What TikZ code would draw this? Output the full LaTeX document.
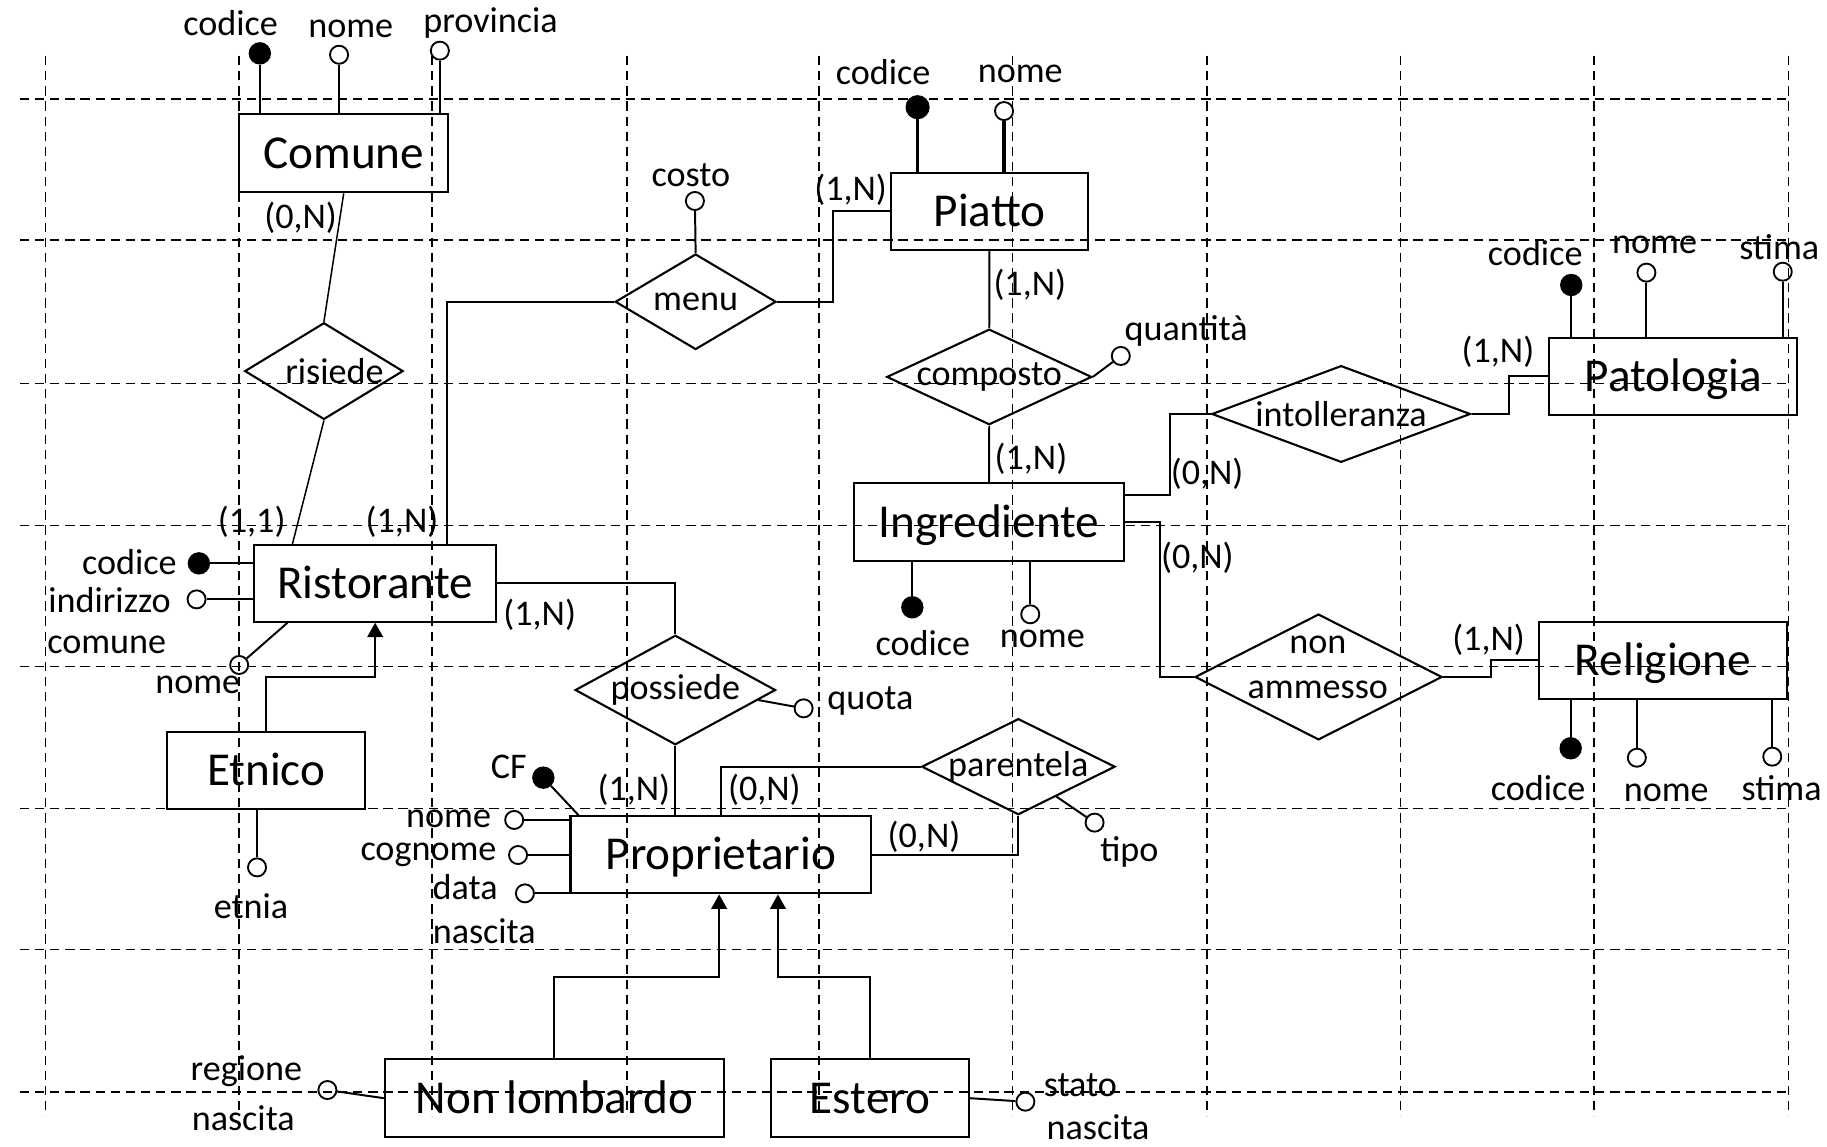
\documentclass[tikz,border=0pt]{standalone}
\usepackage{fontspec}
\setmainfont{Carlito}
\usetikzlibrary{shapes.geometric,arrows.meta,calc}
\newcommand{\smallfnt}{\fontsize{31}{36}\selectfont}
\newcommand{\bigfnt}{\fontsize{40.5}{48}\selectfont}
\tikzset{
  gridline/.style={line width=1.4pt, dash pattern=on 8pt off 5pt},
  ent/.style={draw, rectangle, line width=1.8pt, inner sep=0pt, font=\bigfnt, text height=26pt, text depth=0pt},
  rel/.style={draw, diamond, line width=1.8pt, inner sep=0pt, font=\smallfnt},
  keyat/.style={circle, draw, fill=black, line width=1.2pt, minimum size=18pt, inner sep=0pt},
  att/.style={circle, draw, line width=1.6pt, minimum size=15.5pt, inner sep=0pt},
  lbl/.style={inner sep=0pt, font=\smallfnt},
  conn/.style={line width=1.7pt},
  thickconn/.style={line width=2.8pt},
  isa/.style={line width=1.7pt, -{Triangle[length=12.5pt,width=13.5pt]}},
}
\begin{document}
\begin{tikzpicture}[x=1pt,y=-1pt]
\useasboundingbox (0,0) rectangle (1568,984);
% dashed grid
\foreach \x in {39,205,371,538,703,869,1036,1202,1368,1535} \draw[gridline] (\x,48) -- (\x,958);
\foreach \y in {85,206,329,451,572,694,815,937} \draw[gridline] (17,\y) -- (1537,\y);

% entities
\node[ent, minimum width=179pt, minimum height=67pt] (comune) at (295,131.5) {Comune};
\node[ent, minimum width=169.7pt, minimum height=66.4pt] (piatto) at (849.2,181.4) {Piatto};
\node[ent, minimum width=208pt, minimum height=65.8pt] (ristorante) at (322,500.6) {Ristorante};
\node[ent, minimum width=231.6pt, minimum height=66.4pt] (ingrediente) at (848.8,448) {Ingrediente};
\node[ent, minimum width=213pt, minimum height=66.4pt] (patologia) at (1436,323) {Patologia};
\node[ent, minimum width=213pt, minimum height=66.4pt] (religione) at (1427.2,566.7) {Religione};
\node[ent, minimum width=169.7pt, minimum height=65.5pt] (etnico) at (228.5,661.3) {Etnico};
\node[ent, minimum width=258.2pt, minimum height=66.4pt] (proprietario) at (618.7,733.5) {Proprietario};
\node[ent, minimum width=291pt, minimum height=67pt] (nonlomb) at (475.8,942.5) {Non lombardo};
\node[ent, minimum width=169.4pt, minimum height=67pt] (estero) at (746.7,942.5) {Estero};

% relationships
\node[rel, minimum width=136pt, minimum height=83pt] (risiede) at (278,318.5) {\makebox[0pt]{\hspace{18pt}risiede}};
\node[rel, minimum width=138pt, minimum height=82pt] (menu) at (597,259) {\makebox[0pt]{menu}};
\node[rel, minimum width=176pt, minimum height=82pt] (composto) at (849,323.5) {\makebox[0pt]{composto}};
\node[rel, minimum width=222pt, minimum height=83pt] (intolleranza) at (1151,355.3) {\makebox[0pt]{intolleranza}};
\node[rel, minimum width=212pt, minimum height=108pt] (nonamm) at (1131.6,581) {};
\node[lbl, align=center] (nonammtxt) at (1131,573) {non\\[3pt]ammesso};
\node[rel, minimum width=172pt, minimum height=94pt] (possiede) at (579.6,592.2) {\makebox[0pt]{possiede}};
\node[rel, minimum width=166pt, minimum height=82.5pt] (parentela) at (874,658) {\makebox[0pt]{parentela}};

% connectors
\draw[conn, line width=1.3pt] (comune.south) -- (risiede.north);
\draw[conn, line width=1.3pt] (risiede.south) -- (ristorante.north -| 251,0);
\draw[conn] (ristorante.north -| 384,0) |- (menu.west);
\draw[conn] (menu.east) -- (menu.east -| 715,0) |- (piatto.west);
\draw[conn] (piatto.south) -- (composto.north);
\draw[conn] (composto.south) -- (ingrediente.north);
\draw[conn] (ingrediente.east |- 0,424.8) -- (1003.8,424.8) |- (intolleranza.west);
\draw[conn] (intolleranza.east) -- (intolleranza.east -| 1295.2,0) |- (patologia.west);
\draw[conn] (ingrediente.east) -- (ingrediente.east -| 995.4,0) |- (nonamm.west);
\draw[conn] (nonamm.east) -- (nonamm.east -| 1279.4,0) |- (religione.west);
\draw[conn] (ristorante.east) -| (possiede.north);
\draw[conn] (possiede.south) -- (proprietario.north -| possiede.south);
\draw[conn] (proprietario.north) |- (parentela.west);
\draw[conn] (proprietario.east) -| (parentela.south);
\draw[isa] (etnico.north) -- (etnico.north |- 0,581.3) -| (ristorante.south);
\draw[isa] (nonlomb.north) -- (nonlomb.north |- 0,838.2) -| ($(proprietario.south)+(-1.5,0)$);
\draw[isa] (estero.north) -- (estero.north |- 0,838.2) -| ($(proprietario.south)+(49,0)$);

% attributes of Comune
\node[keyat] (ccod) at (223,45.8) {};
\node[att] (cnome) at (291,47) {};
\node[att] (cprov) at (377.5,43.5) {};
\draw[conn] (ccod) -- (ccod |- comune.north);
\draw[conn] (cnome) -- (cnome |- comune.north);
\draw[conn] (cprov) -- (cprov |- comune.north);
\node[lbl] (lccod) at (198,20) {codice};
\node[lbl] (lcnome) at (301,25) {nome};
\node[lbl] (lcprov) at (421,20) {provincia};

% attributes of Piatto
\node[keyat, minimum size=19.5pt] (pcod) at (787.5,92) {};
\node[att] (pnome) at (861.7,95.3) {};
\draw[thickconn] (pcod) -- (pcod |- piatto.north);
\draw[thickconn] (pnome) -- (pnome |- piatto.north);
\node[lbl] (lpcod) at (758,61.5) {codice};
\node[lbl] (lpnome) at (875.6,63) {nome};

% menu attribute
\node[att] (costo) at (596.4,172.5) {};
\draw[conn] (costo) -- (menu.north);
\node[lbl] (lcosto) at (593,150) {costo};

% composto attribute
\node[att] (quant) at (961.9,305.5) {};
\draw[conn] (composto.east) -- (quant);
\node[lbl] (lquant) at (1018,284) {quantità};

% attributes of Patologia
\node[keyat] (patcod) at (1348.5,244.6) {};
\node[att] (patnome) at (1413,234) {};
\node[att] (patstima) at (1530,233.2) {};
\draw[conn] (patcod) -- (patcod |- patologia.north);
\draw[conn] (patnome) -- (patnome |- patologia.north);
\draw[conn] (patstima) -- (patstima |- patologia.north);
\node[lbl] (lpatcod) at (1317.6,217.4) {codice};
\node[lbl] (lpatnome) at (1420,210.3) {nome};
\node[lbl] (lpatstima) at (1527,211.7) {stima};

% attributes of Ingrediente
\node[keyat] (icod) at (783,521.2) {};
\node[att] (inome) at (884.2,527.2) {};
\draw[conn] (icod) -- (icod |- ingrediente.south);
\draw[conn] (inome) -- (inome |- ingrediente.south);
\node[lbl] (licod) at (792,551.6) {codice};
\node[lbl] (linome) at (894.6,548.7) {nome};

% attributes of Religione
\node[keyat] (rcod) at (1348,642.2) {};
\node[att] (rnome) at (1404.8,650.3) {};
\node[att] (rstima) at (1521,649.4) {};
\draw[conn] (rcod) -- (rcod |- religione.south);
\draw[conn] (rnome) -- (rnome |- religione.south);
\draw[conn] (rstima) -- (rstima |- religione.south);
\node[lbl] (lrcod) at (1320,676.6) {codice};
\node[lbl] (lrnome) at (1430,680.8) {nome};
\node[lbl] (lrstima) at (1529,676.6) {stima};

% attributes of Ristorante
\node[keyat] (ristcod) at (170.7,483.5) {};
\node[att] (ristind) at (168.7,514.4) {};
\node[att] (ristcom) at (205.3,570.7) {};
\draw[conn] (ristcod) -- (ristcod -| ristorante.west);
\draw[conn] (ristind) -- (ristind -| ristorante.west);
\draw[conn] (ristcom) -- ($(ristorante.south west)+(29.7,0)$);
\node[lbl] (lristcod) at (111,482) {codice};
\node[lbl] (lristind) at (94,515) {indirizzo};
\node[lbl] (lristcom) at (91.6,553.5) {comune};
\node[lbl] (lristnome) at (169.7,588) {nome};

% attribute of Etnico
\node[att] (etnia) at (220.6,744.4) {};
\draw[conn] (etnia) -- (etnico.south -| etnia);
\node[lbl] (letnia) at (215.4,777.6) {etnia};

% possiede attribute
\node[att] (quota) at (689.7,607.9) {};
\draw[conn] ($(possiede.east)!0.18!(possiede.south)$) -- (quota);
\node[lbl] (lquota) at (747,602) {quota};

% parentela attribute
\node[att] (tipo) at (939.4,706) {};
\draw[conn] ($(parentela.east)!0.61!(parentela.south)$) -- (tipo);
\node[lbl] (ltipo) at (969.3,731.5) {tipo};

% attributes of Proprietario
\node[keyat] (cf) at (466.3,667.4) {};
\node[att] (prnome) at (441.3,703.7) {};
\node[att] (prcog) at (444.6,733.8) {};
\node[att] (prdata) at (450.5,766.7) {};
\draw[conn] (cf) -- ($(proprietario.north west)+(8.5,1)$);
\draw[conn] (prnome) -- (prnome -| proprietario.west);
\draw[conn] (prcog) -- (prcog -| proprietario.west);
\draw[conn] (prdata) -- (prdata -| proprietario.west);
\node[lbl] (lcf) at (436.7,658) {CF};
\node[lbl] (lprnome) at (385,703) {nome};
\node[lbl] (lprcog) at (367.7,733.8) {cognome};
\node[lbl] (lprdata) at (399.2,761) {data};
\node[lbl] (lprnasc) at (415.6,799.6) {nascita};

% attributes of Non lombardo and Estero
\node[att] (regnasc) at (281,935.5) {};
\draw[conn] (regnasc) -- (nonlomb.west);
\node[lbl] (lreg1) at (211.4,919.7) {regione};
\node[lbl] (lreg2) at (208.8,959.8) {nascita};
\node[att] (statnasc) at (880,945.5) {};
\draw[conn] (estero.east) -- (statnasc);
\node[lbl] (lstat1) at (927.2,931) {stato};
\node[lbl] (lstat2) at (942.4,967) {nascita};

% cardinalities
\node[lbl] (m1) at (258,187) {(0,N)};
\node[lbl] (m2) at (216,447.7) {(1,1)};
\node[lbl] (m3) at (345,447.7) {(1,N)};
\node[lbl] (m4) at (730,163) {(1,N)};
\node[lbl] (m5) at (883.8,244.6) {(1,N)};
\node[lbl] (m6) at (884.8,393.4) {(1,N)};
\node[lbl] (m7) at (1036,407) {(0,N)};
\node[lbl] (m8) at (1285.6,301.8) {(1,N)};
\node[lbl] (m9) at (1027.6,479) {(0,N)};
\node[lbl] (m10) at (1277.5,549) {(1,N)};
\node[lbl] (m11) at (463.2,527.8) {(1,N)};
\node[lbl] (m12) at (544,678) {(1,N)};
\node[lbl] (m13) at (656,678) {(0,N)};
\node[lbl] (m14) at (793,718) {(0,N)};
\end{tikzpicture}
\end{document}
